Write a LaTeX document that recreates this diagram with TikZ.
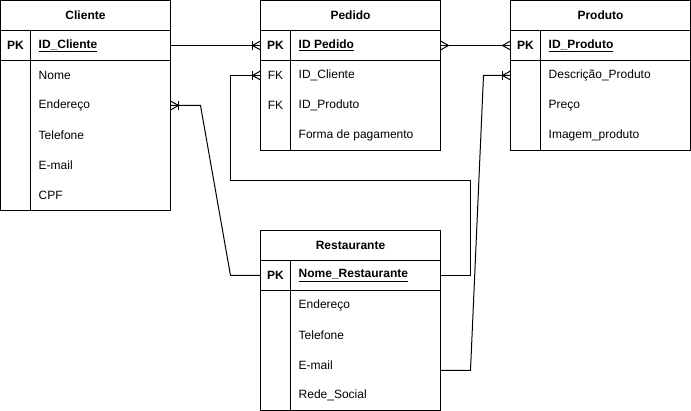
\documentclass[tikz,border=0pt]{standalone}
\usepackage{fontspec}
\setmainfont{Liberation Sans}
\tikzset{
  x=1pt, y=-1pt,
  entity/.style={draw, line width=1pt, inner sep=0pt, outer sep=0pt, anchor=north west},
  sep/.style={line width=1pt},
  conn/.style={line width=1pt},
  ttl/.style={font=\fontsize{12}{14}\selectfont\bfseries, inner sep=0pt},
  keytxt/.style={font=\fontsize{12}{14}\selectfont, inner sep=0pt},
  attr/.style={font=\fontsize{12}{14}\selectfont, inner sep=0pt, anchor=west},
  crowbar/.pic={\draw[conn] (0,-4.5)--(8,0)--(0,4.5); \draw[conn] (8,-4.5)--(8,4.5);},
  crowonly/.pic={\draw[conn] (0,-4.5)--(8,0)--(0,4.5);}
}
\newcommand\pkname[1]{\underline{\textbf{#1}}}
\begin{document}
\begin{tikzpicture}
\useasboundingbox (0,0) rectangle (691,411);
% ---------------- Cliente
\node[entity, minimum width=170pt, minimum height=210pt] (cli) at (0.5,0.5) {};
\draw[sep] (0.5,30.5) -- (170.5,30.5);
\draw[sep] (0.5,60.5) -- (170.5,60.5);
\draw[sep] (30.5,30.5) -- (30.5,210.5);
\node[ttl] (cli-t) at (85.5,15.5) {Cliente};
\node[keytxt, font=\fontsize{12}{14}\selectfont\bfseries] (cli-k) at (15.5,45.5) {PK};
\node[attr] (cli-pk) at (38.5,45.5) {\pkname{ID\_Cliente}};
\node[attr] (cli-a1) at (38.5,75.5) {Nome};
\node[attr] (cli-a2) at (38.5,105.5) {Endereço};
\node[attr] (cli-a3) at (38.5,135.5) {Telefone};
\node[attr] (cli-a4) at (38.5,165.5) {E-mail};
\node[attr] (cli-a5) at (38.5,195.5) {CPF};
\coordinate (cliPKe) at (170.5,45.5);
\coordinate (cliENDe) at (170.5,105.5);
% ---------------- Pedido
\node[entity, minimum width=180pt, minimum height=150pt] (ped) at (260.5,0.5) {};
\draw[sep] (260.5,30.5) -- (440.5,30.5);
\draw[sep] (260.5,60.5) -- (440.5,60.5);
\draw[sep] (290.5,30.5) -- (290.5,150.5);
\node[ttl] (ped-t) at (350.5,15.5) {Pedido};
\node[keytxt, font=\fontsize{12}{14}\selectfont\bfseries] (ped-k) at (275.5,45.5) {PK};
\node[keytxt] (ped-fk1) at (275.5,75.5) {FK};
\node[keytxt] (ped-fk2) at (275.5,105.5) {FK};
\node[attr] (ped-pk) at (298.5,45.5) {\pkname{ID Pedido}};
\node[attr] (ped-a1) at (298.5,75.5) {ID\_Cliente};
\node[attr] (ped-a2) at (298.5,105.5) {ID\_Produto};
\node[attr] (ped-a3) at (298.5,135.5) {Forma de pagamento};
\coordinate (pedPKw) at (260.5,45.5);
\coordinate (pedPKe) at (440.5,45.5);
\coordinate (pedFKw) at (260.5,75.5);
% ---------------- Produto
\node[entity, minimum width=180pt, minimum height=150pt] (pro) at (510.5,0.5) {};
\draw[sep] (510.5,30.5) -- (690.5,30.5);
\draw[sep] (510.5,60.5) -- (690.5,60.5);
\draw[sep] (540.5,30.5) -- (540.5,150.5);
\node[ttl] (pro-t) at (600.5,15.5) {Produto};
\node[keytxt, font=\fontsize{12}{14}\selectfont\bfseries] (pro-k) at (525.5,45.5) {PK};
\node[attr] (pro-pk) at (548.5,45.5) {\pkname{ID\_Produto}};
\node[attr] (pro-a1) at (548.5,75.5) {Descrição\_Produto};
\node[attr] (pro-a2) at (548.5,105.5) {Preço};
\node[attr] (pro-a3) at (548.5,135.5) {Imagem\_produto};
\coordinate (proPKw) at (510.5,45.5);
\coordinate (proA1w) at (510.5,75.5);
% ---------------- Restaurante
\node[entity, minimum width=180pt, minimum height=180pt] (res) at (260.5,230.5) {};
\draw[sep] (260.5,260.5) -- (440.5,260.5);
\draw[sep] (260.5,290.5) -- (440.5,290.5);
\draw[sep] (290.5,260.5) -- (290.5,410.5);
\node[ttl] (res-t) at (350.5,245.5) {Restaurante};
\node[keytxt, font=\fontsize{12}{14}\selectfont\bfseries] (res-k) at (275.5,275.5) {PK};
\node[attr] (res-pk) at (298.5,275.5) {\pkname{Nome\_Restaurante}};
\node[attr] (res-a1) at (298.5,305.5) {Endereço};
\node[attr] (res-a2) at (298.5,335.5) {Telefone};
\node[attr] (res-a3) at (298.5,365.5) {E-mail};
\node[attr] (res-a4) at (298.5,395.5) {Rede\_Social};
\coordinate (resPKw) at (260.5,275.5);
\coordinate (resPKe) at (440.5,275.5);
\coordinate (resEMe) at (440.5,370.5);
% ---------------- connectors
\draw[conn] (cliPKe) -- (pedPKw);
\pic[rotate=180] at (pedPKw) {crowbar};

\draw[conn] (pedPKe) -- (proPKw);
\pic at (pedPKe) {crowonly};
\pic[rotate=180] at (proPKw) {crowonly};

\draw[conn] (pedFKw) -- ++(-30,0) |- (470.5,180.5) |- (resPKe);
\pic[rotate=180] at (pedFKw) {crowbar};

\draw[conn] (proA1w) -- ++(-27,0) -- (470.5,370.5) -- (resEMe);
\pic[rotate=180] at (proA1w) {crowbar};

\draw[conn] (cliENDe) -- ++(30,0) -- (230.5,275.5) -- (resPKw);
\pic at (cliENDe) {crowbar};
\end{tikzpicture}
\end{document}
